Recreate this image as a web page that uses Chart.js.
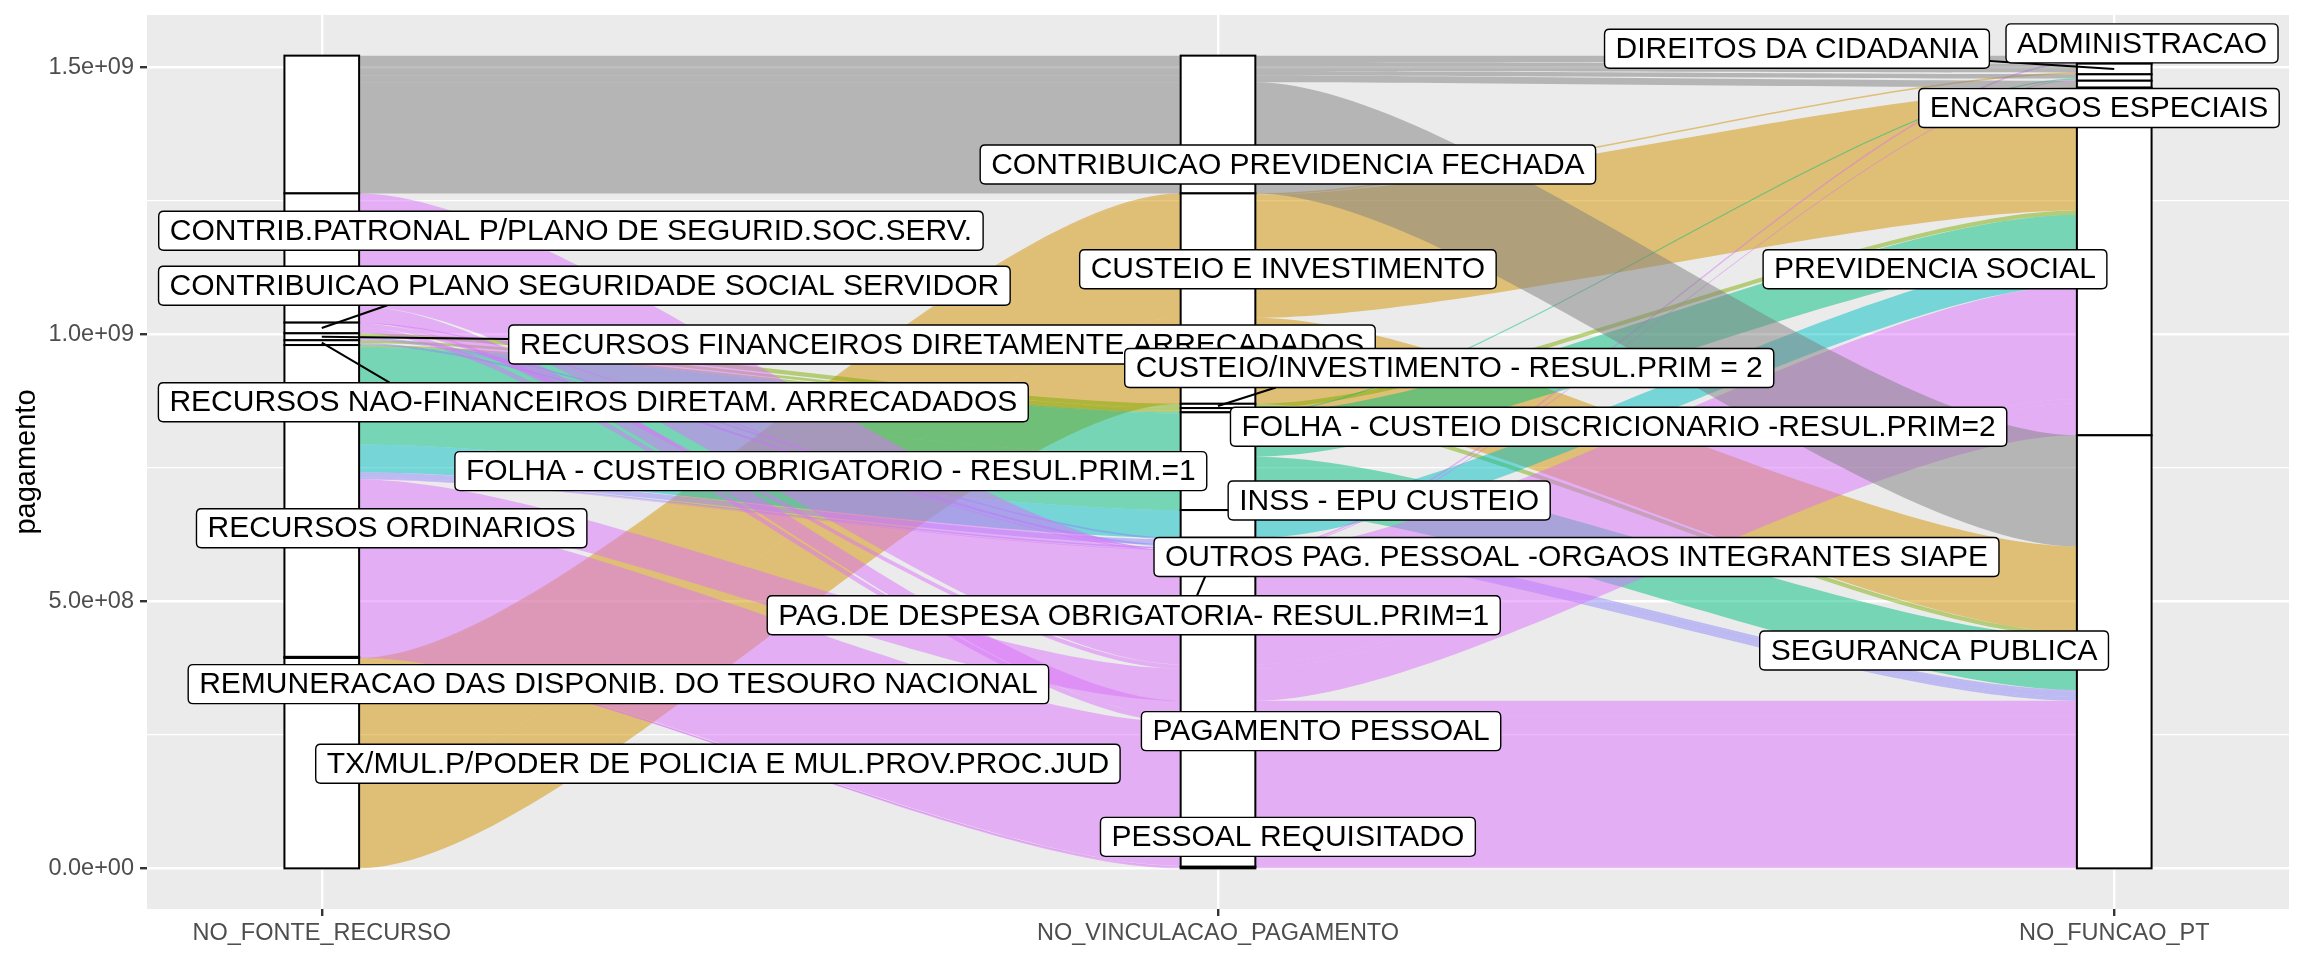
<!DOCTYPE html>
<html>
<head>
<meta charset="utf-8">
<title>pagamento</title>
<script src="https://cdn.jsdelivr.net/npm/chart.js@4.4.1/dist/chart.umd.min.js"></script>
<style>
  body { margin: 0; background: #ffffff; }
  canvas { display: block; }
</style>
</head>
<body>
<canvas id="alluvial" width="2304" height="960"></canvas>
<script>
// axes of the alluvial plot, left to right
var eixos = ['NO_FONTE_RECURSO', 'NO_VINCULACAO_PAGAMENTO', 'NO_FUNCAO_PT'];

// strata of each axis, top to bottom
var fonte = [
  '',  // top stratum, its label is not shown
  'CONTRIB.PATRONAL P/PLANO DE SEGURID.SOC.SERV.',
  'CONTRIBUICAO PLANO SEGURIDADE SOCIAL SERVIDOR',
  'RECURSOS FINANCEIROS DIRETAMENTE ARRECADADOS',
  'RECURSOS NAO-FINANCEIROS DIRETAM. ARRECADADOS',
  'RECURSOS ORDINARIOS',
  'REMUNERACAO DAS DISPONIB. DO TESOURO NACIONAL',
  'TX/MUL.P/PODER DE POLICIA E MUL.PROV.PROC.JUD'
];
var vinculacao = [
  'CONTRIBUICAO PREVIDENCIA FECHADA',
  'CUSTEIO E INVESTIMENTO',
  'CUSTEIO/INVESTIMENTO - RESUL.PRIM = 2',
  'FOLHA - CUSTEIO DISCRICIONARIO -RESUL.PRIM=2',
  'FOLHA - CUSTEIO OBRIGATORIO - RESUL.PRIM.=1',
  'INSS - EPU CUSTEIO',
  'OUTROS PAG. PESSOAL -ORGAOS INTEGRANTES SIAPE',
  'PAG.DE DESPESA OBRIGATORIA- RESUL.PRIM=1',
  'PAGAMENTO PESSOAL',
  'PESSOAL REQUISITADO'
];
var funcao = [
  'ADMINISTRACAO',
  'DIREITOS DA CIDADANIA',
  'ENCARGOS ESPECIAIS',
  '',  // small stratum without label
  'PREVIDENCIA SOCIAL',
  'SEGURANCA PUBLICA'
];

// alluvia: index into fonte / vinculacao / funcao, value, fill group
var fluxoFonte  = [0, 0, 0, 0, 0, 7, 7, 7, 1, 1, 2, 2, 2, 3, 3, 3, 4, 4, 5, 5, 5, 5, 5, 5, 5, 5, 5, 5, 5, 6];
var fluxoVinc   = [0, 0, 0, 0, 0, 1, 1, 1, 8, 8, 8, 8, 8, 2, 6, 8, 3, 7, 3, 4, 4, 4, 5, 6, 7, 8, 8, 8, 9, 8];
var fluxoFuncao = [5, 0, 1, 2, 3, 4, 5, 1, 4, 5, 4, 5, 0, 4, 5, 2, 5, 5, 5, 4, 5, 2, 4, 5, 5, 4, 5, 0, 5, 5];
var valor = [
  208e6, 12e6, 17e6, 8e6, 13e6,
  230e6, 161e6, 3e6,
  212e6, 30e6,
  8e6, 10e6, 2e6,
  8e6, 3e6, 2e6,
  5e6, 4e6,
  3e6, 81e6, 100e6, 2e6, 52e6, 10e6, 3e6, 60e6, 269e6, 1e6, 3e6,
  2e6
];
var grupo = [
  'cinza', 'cinza', 'cinza', 'cinza', 'cinza',
  'laranja', 'laranja', 'laranja',
  'rosa', 'rosa',
  'rosa', 'rosa', 'rosa',
  'verdeClaro', 'lilas', 'rosa',
  'verdeClaro', 'lilas',
  'verdeClaro', 'verde', 'verde', 'verde', 'ciano', 'lilas', 'lilas', 'rosa', 'rosa', 'rosa', 'rosa',
  'rosa'
];

// y axis ticks
var yTicks = [0, 5e8, 1e9, 1.5e9];
var yTickLabels = ['0.0e+00', '5.0e+08', '1.0e+09', '1.5e+09'];
var yMinor = [2.5e8, 7.5e8, 1.25e9];

// fill colours (drawn with alpha over the grey panel) and paint order
var cores = {
  cinza: 'rgba(127,127,127,0.5)',
  laranja: 'rgba(211,146,0,0.5)',
  verdeClaro: 'rgba(124,174,0,0.5)',
  verde: 'rgba(0,191,125,0.5)',
  ciano: 'rgba(0,191,196,0.5)',
  lilas: 'rgba(143,135,249,0.5)',
  rosa: 'rgba(219,114,251,0.5)'
};
var ordemPintura = ['laranja', 'verdeClaro', 'verde', 'ciano', 'lilas', 'rosa', 'cinza'];

var larguraEstrato = 1 / 12;

// repelled label placement: [axis, stratum, x, y, draw leader]
var rotulos = [
  [0, 1, 1.278, 11.94e8, false],
  [0, 2, 1.293, 10.91e8, true],
  [0, 3, 1.692, 9.81e8, true],
  [0, 4, 1.303, 8.73e8, true],
  [0, 5, 1.078, 6.37e8, false],
  [0, 6, 1.331, 3.45e8, false],
  [0, 7, 1.442, 1.96e8, false],
  [1, 0, 2.078, 13.18e8, false],
  [1, 1, 2.078, 11.22e8, false],
  [1, 2, 2.258, 9.37e8, true],
  [1, 3, 2.447, 8.27e8, false],
  [1, 4, 1.568, 7.44e8, false],
  [1, 5, 2.191, 6.89e8, false],
  [1, 6, 2.400, 5.83e8, false],
  [1, 7, 1.906, 4.74e8, true],
  [1, 8, 2.115, 2.57e8, false],
  [1, 9, 2.078, 0.59e8, false],
  [2, 0, 3.031, 15.45e8, false],
  [2, 1, 2.646, 15.35e8, true],
  [2, 2, 2.983, 14.24e8, false],
  [2, 4, 2.800, 11.22e8, false],
  [2, 5, 2.799, 4.08e8, false]
];

var total = valor.reduce(function(s, v) { return s + v; }, 0);

// stack lodes on every axis (zigzag ordering like ggalluvial)
function empilhar() {
  var n = valor.length;
  var chaves = [fluxoFonte, fluxoVinc, fluxoFuncao];
  var ordem = [[0, 1, 2], [1, 2, 0], [2, 1, 0]];
  var lodes = [], estratos = [];
  for (var a = 0; a < 3; a++) {
    var idx = [];
    for (var i = 0; i < n; i++) idx.push(i);
    var o = ordem[a];
    idx.sort(function(p, q) {
      for (var k = 0; k < 3; k++) {
        var d = chaves[o[k]][p] - chaves[o[k]][q];
        if (d) return d;
      }
      return p - q;
    });
    var y = total, L = [], S = {};
    idx.forEach(function(i) {
      var s = chaves[a][i];
      L[i] = { top: y, bot: y - valor[i] };
      if (!S[s]) S[s] = { top: y, bot: y - valor[i] };
      else S[s].bot = y - valor[i];
      y -= valor[i];
    });
    lodes.push(L);
    estratos.push(S);
  }
  return { lodes: lodes, estratos: estratos };
}
var pilha = empilhar();
var niveis = [fonte, vinculacao, funcao];

function caixaArredondada(ctx, x, y, w, h, r) {
  ctx.beginPath();
  ctx.moveTo(x + r, y);
  ctx.lineTo(x + w - r, y);
  ctx.quadraticCurveTo(x + w, y, x + w, y + r);
  ctx.lineTo(x + w, y + h - r);
  ctx.quadraticCurveTo(x + w, y + h, x + w - r, y + h);
  ctx.lineTo(x + r, y + h);
  ctx.quadraticCurveTo(x, y + h, x, y + h - r);
  ctx.lineTo(x, y + r);
  ctx.quadraticCurveTo(x, y, x + r, y);
  ctx.closePath();
}

// end of a leader segment on the label box
function pontaGuia(c) {
  var dx = c.px - c.cx, dy = c.py - c.cy;
  var tx = dx ? (c.w / 2) / Math.abs(dx) : Infinity;
  var ty = dy ? (c.h / 2) / Math.abs(dy) : Infinity;
  if (Math.min(tx, ty) >= 1) return null;
  if (ty < tx) {
    // top or bottom edge: meet it not far from the point
    var ex = c.px + 0.25 * (c.cx - c.px);
    ex = Math.max(c.cx - c.w / 2, Math.min(c.cx + c.w / 2, ex));
    return [ex, c.cy + (dy > 0 ? c.h / 2 : -c.h / 2)];
  }
  return [c.cx + dx * tx, c.cy + dy * tx];
}

var alluvialPlugin = {
  id: 'alluvial',
  beforeDraw: function(chart) {
    var a = chart.chartArea, ctx = chart.ctx;
    ctx.save();
    ctx.fillStyle = '#FFFFFF';
    ctx.fillRect(0, 0, chart.width, chart.height);
    ctx.fillStyle = '#EBEBEB';
    ctx.fillRect(a.left, a.top, a.right - a.left, a.bottom - a.top);
    ctx.restore();
  },
  afterDatasetsDraw: function(chart) {
    var ctx = chart.ctx, X = chart.scales.x, Y = chart.scales.y;
    var w2 = larguraEstrato / 2;
    var L = pilha.lodes;
    ctx.save();

    // flows between neighbouring axes
    ordemPintura.forEach(function(g) {
      ctx.fillStyle = cores[g];
      for (var i = 0; i < valor.length; i++) {
        if (grupo[i] !== g) continue;
        for (var a = 0; a < 2; a++) {
          var x0 = X.getPixelForValue(a + 1 + w2), x1 = X.getPixelForValue(a + 2 - w2);
          var t0 = Y.getPixelForValue(L[a][i].top), b0 = Y.getPixelForValue(L[a][i].bot);
          var t1 = Y.getPixelForValue(L[a + 1][i].top), b1 = Y.getPixelForValue(L[a + 1][i].bot);
          var k = 0.25 * (x1 - x0);
          ctx.beginPath();
          ctx.moveTo(x0, t0);
          ctx.bezierCurveTo(x0 + k, t0, x1 - k, t1, x1, t1);
          ctx.lineTo(x1, b1);
          ctx.bezierCurveTo(x1 - k, b1, x0 + k, b0, x0, b0);
          ctx.closePath();
          ctx.fill();
        }
      }
    });

    // strata boxes
    ctx.lineWidth = 2;
    ctx.strokeStyle = '#000000';
    for (var a = 0; a < 3; a++) {
      var xl = X.getPixelForValue(a + 1 - w2), xr = X.getPixelForValue(a + 1 + w2);
      Object.keys(pilha.estratos[a]).forEach(function(s) {
        var e = pilha.estratos[a][s];
        var yt = Y.getPixelForValue(e.top), yb = Y.getPixelForValue(e.bot);
        ctx.fillStyle = '#FFFFFF';
        ctx.fillRect(xl, yt, xr - xl, yb - yt);
        ctx.strokeRect(xl, yt, xr - xl, yb - yt);
      });
    }

    // labels with leader segments
    ctx.font = '30px "Liberation Sans", Arial, sans-serif';
    var caixas = rotulos.map(function(r) {
      var texto = niveis[r[0]][r[1]];
      var e = pilha.estratos[r[0]][r[1]];
      var w = ctx.measureText(texto).width + 22, h = 39;
      return {
        texto: texto, guia: r[4], w: w, h: h,
        cx: X.getPixelForValue(r[2]), cy: Y.getPixelForValue(r[3]),
        px: X.getPixelForValue(r[0] + 1), py: Y.getPixelForValue((e.top + e.bot) / 2)
      };
    });
    ctx.lineWidth = 2;
    caixas.forEach(function(c) {
      if (!c.guia) return;
      var p = pontaGuia(c);
      if (!p) return;
      ctx.beginPath();
      ctx.moveTo(c.px, c.py);
      ctx.lineTo(p[0], p[1]);
      ctx.stroke();
    });
    ctx.textAlign = 'center';
    ctx.textBaseline = 'middle';
    caixas.forEach(function(c) {
      caixaArredondada(ctx, c.cx - c.w / 2, c.cy - c.h / 2, c.w, c.h, 5);
      ctx.fillStyle = '#FFFFFF';
      ctx.fill();
      ctx.lineWidth = 1.4;
      ctx.strokeStyle = '#000000';
      ctx.stroke();
      ctx.fillStyle = '#000000';
      ctx.fillText(c.texto, c.cx, c.cy + 1);
    });
    ctx.restore();
  }
};

function menor(c) {
  return c.tick && yMinor.indexOf(c.tick.value) >= 0;
}

Chart.defaults.font.family = '"Liberation Sans", Arial, sans-serif';

new Chart(document.getElementById('alluvial'), {
  type: 'scatter',
  data: { datasets: [{ data: [] }] },
  options: {
    responsive: false,
    devicePixelRatio: 1,
    animation: false,
    layout: { padding: { top: 15, right: 15, left: 0, bottom: 0 } },
    plugins: { legend: { display: false }, tooltip: { enabled: false } },
    scales: {
      x: {
        type: 'linear',
        min: 0.805,
        max: 3.195,
        afterBuildTicks: function(s) {
          s.ticks = eixos.map(function(_, i) { return { value: i + 1 }; });
        },
        afterFit: function(s) {
          s.height = 51;
          s.paddingLeft = 0;
          s.paddingRight = 0;
        },
        ticks: {
          callback: function(v) { return eixos[v - 1]; },
          color: '#4D4D4D',
          font: { size: 23.5 },
          padding: 3,
          maxRotation: 0,
          autoSkip: false
        },
        grid: { color: '#FFFFFF', lineWidth: 2.4, tickColor: '#333333', tickLength: 7, tickWidth: 2.4 },
        border: { display: false }
      },
      y: {
        type: 'linear',
        min: -0.05 * total,
        max: 1.05 * total,
        afterBuildTicks: function(s) {
          s.ticks = yTicks.concat(yMinor).sort(function(a, b) { return a - b; })
            .map(function(v) { return { value: v }; });
        },
        afterFit: function(s) {
          s.width = 147;
          s.paddingTop = 0;
          s.paddingBottom = 0;
        },
        ticks: {
          callback: function(v) {
            var i = yTicks.indexOf(v);
            return i < 0 ? '' : yTickLabels[i];
          },
          color: '#4D4D4D',
          font: { size: 23.5 },
          padding: 6,
          autoSkip: false
        },
        grid: {
          color: '#FFFFFF',
          lineWidth: function(c) { return menor(c) ? 1.2 : 2.4; },
          tickColor: function(c) { return menor(c) ? 'rgba(0,0,0,0)' : '#333333'; },
          tickLength: 7,
          tickWidth: 2.4
        },
        border: { display: false },
        title: { display: true, text: 'pagamento', color: '#000000', font: { size: 29 }, padding: { top: 10, bottom: 0 } }
      }
    }
  },
  plugins: [alluvialPlugin]
});
</script>
</body>
</html>
